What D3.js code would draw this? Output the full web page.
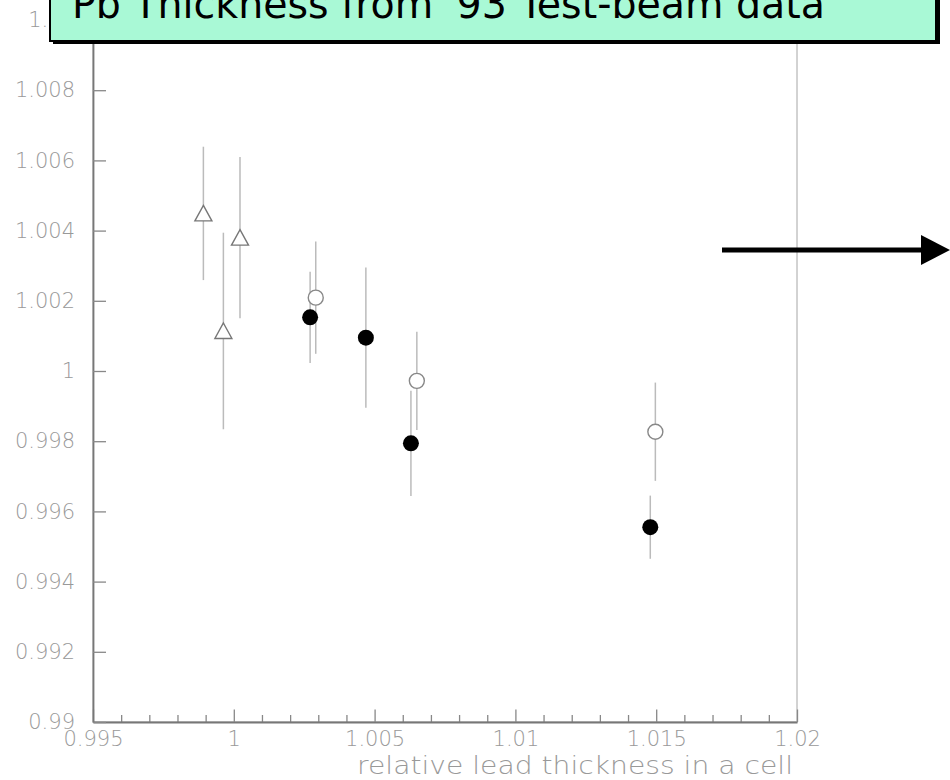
<!DOCTYPE html>
<html>
<head>
<meta charset="utf-8">
<script src="https://cdn.jsdelivr.net/npm/d3@7"></script>
<style>
  html, body { margin: 0; padding: 0; background: #fff; }
  svg { display: block; }
  .tick text { font-family: 'DejaVu Sans', sans-serif; font-weight: 200; fill: #999; }
</style>
</head>
<body>
<div id="chart"></div>
<script>
'use strict'

// open triangles
const triX = [0.99892, 0.99963, 1.00022]
const triY = [1.00449, 1.00114, 1.00380]
const triErr = [0.0019, 0.0028, 0.0023]

// open circles
const openX = [1.00291, 1.00650, 1.01497]
const openY = [1.00209, 0.99972, 0.99827]
const openErr = [0.0016, 0.0014, 0.0014]

// filled circles
const fillX = [1.00271, 1.00469, 1.00629, 1.01479]
const fillY = [1.00153, 1.00095, 0.99794, 0.99555]
const fillErr = [0.0013, 0.0020, 0.0015, 0.0009]

const xMajor = [0.995, 1, 1.005, 1.01, 1.015, 1.02]
const yMajor = [0.99, 0.992, 0.994, 0.996, 0.998, 1, 1.002, 1.004, 1.006, 1.008, 1.01]

const title = "Pb Thickness from '93 Test-beam data"
const xTitle = 'relative lead thickness in a cell'

const width = 950
const height = 780

const svg = d3.select('#chart')
  .append('svg')
  .attr('width', width)
  .attr('height', height)

const x = d3.scaleLinear().domain([0.995, 1.02]).range([93, 797])
const y = d3.scaleLinear().domain([0.99, 1.01]).range([722, 20])

const fmt = d => String(+d.toFixed(4))

// frame (top/right light)
svg.append('rect')
  .attr('x', x(0.995))
  .attr('y', y(1.01))
  .attr('width', x(1.02) - x(0.995))
  .attr('height', y(0.99) - y(1.01))
  .attr('fill', 'none')
  .attr('stroke', '#c4c4c4')
  .attr('stroke-width', 1.5)

// minor x ticks
const xMinor = d3.range(0, 26).map(i => 0.995 + i * 0.001).filter(v => !xMajor.some(m => Math.abs(m - v) < 1e-9))
svg.append('g')
  .attr('transform', `translate(0,${y(0.99)})`)
  .call(d3.axisBottom(x).tickValues(xMinor).tickSize(-7).tickSizeOuter(0).tickFormat(''))
  .call(g => g.select('.domain').remove())
  .call(g => g.selectAll('line').attr('stroke', '#888').attr('stroke-width', 1.3))

// x axis
svg.append('g')
  .attr('transform', `translate(0,${y(0.99)})`)
  .call(d3.axisBottom(x).tickValues(xMajor).tickSize(-12.5).tickSizeOuter(0).tickPadding(9).tickFormat(fmt))
  .call(g => g.select('.domain').attr('stroke', '#777').attr('stroke-width', 1.8))
  .call(g => g.selectAll('line').attr('stroke', '#888').attr('stroke-width', 1.3))
  .call(g => g.selectAll('text').style('font-size', '21px'))

// y axis
svg.append('g')
  .attr('transform', `translate(${x(0.995)},0)`)
  .call(d3.axisLeft(y).tickValues(yMajor).tickSize(-13).tickSizeOuter(0).tickPadding(18).tickFormat(fmt))
  .call(g => g.select('.domain').attr('stroke', '#777').attr('stroke-width', 1.8))
  .call(g => g.selectAll('line').attr('stroke', '#888').attr('stroke-width', 1.3))
  .call(g => g.selectAll('text').style('font-size', '21px'))

// x axis title
svg.append('text')
  .attr('x', 793)
  .attr('y', 774)
  .attr('text-anchor', 'end')
  .attr('textLength', 436)
  .attr('lengthAdjust', 'spacingAndGlyphs')
  .style('font-family', "'DejaVu Sans', sans-serif")
  .style('font-weight', 200)
  .style('font-size', '25px')
  .style('fill', '#999')
  .text(xTitle)

// error bars
const errGroup = svg.append('g')
function drawErrors (xs, ys, es) {
  errGroup.selectAll(null)
    .data(xs.map((v, i) => ({ x: v, y: ys[i], e: es[i] })))
    .enter()
    .append('line')
    .attr('x1', d => x(d.x))
    .attr('x2', d => x(d.x))
    .attr('y1', d => y(d.y + d.e))
    .attr('y2', d => y(d.y - d.e))
    .attr('stroke', '#bbb')
    .attr('stroke-width', 1.5)
}
drawErrors(triX, triY, triErr)
drawErrors(openX, openY, openErr)
drawErrors(fillX, fillY, fillErr)

// markers
svg.append('g')
  .selectAll('path')
  .data(triX.map((v, i) => ({ x: v, y: triY[i] })))
  .enter()
  .append('path')
  .attr('d', d => `M${x(d.x)},${y(d.y) - 8}L${x(d.x) + 8.5},${y(d.y) + 7.5}L${x(d.x) - 8.5},${y(d.y) + 7.5}Z`)
  .attr('fill', '#fff')
  .attr('stroke', '#777')
  .attr('stroke-width', 1.4)

svg.append('g')
  .selectAll('circle')
  .data(openX.map((v, i) => ({ x: v, y: openY[i] })))
  .enter()
  .append('circle')
  .attr('cx', d => x(d.x))
  .attr('cy', d => y(d.y))
  .attr('r', 7.5)
  .attr('fill', '#fff')
  .attr('stroke', '#888')
  .attr('stroke-width', 1.4)

svg.append('g')
  .selectAll('circle')
  .data(fillX.map((v, i) => ({ x: v, y: fillY[i] })))
  .enter()
  .append('circle')
  .attr('cx', d => x(d.x))
  .attr('cy', d => y(d.y))
  .attr('r', 8)
  .attr('fill', '#000')

// arrow annotation
svg.append('line')
  .attr('x1', 722)
  .attr('x2', 925)
  .attr('y1', 250)
  .attr('y2', 250)
  .attr('stroke', '#000')
  .attr('stroke-width', 5)
svg.append('path')
  .attr('d', 'M921,235L950,250L921,265Z')
  .attr('fill', '#000')

// title box
svg.append('rect')
  .attr('x', 53)
  .attr('y', -20)
  .attr('width', 887)
  .attr('height', 64)
  .attr('fill', '#000')
svg.append('rect')
  .attr('x', 50)
  .attr('y', -20)
  .attr('width', 886)
  .attr('height', 61)
  .attr('fill', '#a9f9d6')
  .attr('stroke', '#000')
  .attr('stroke-width', 2)
svg.append('text')
  .attr('x', 72)
  .attr('y', 18)
  .attr('textLength', 753)
  .attr('lengthAdjust', 'spacingAndGlyphs')
  .style('font-family', "'DejaVu Sans', sans-serif")
  .style('font-size', '40px')
  .style('fill', '#000')
  .text(title)
</script>
</body>
</html>
